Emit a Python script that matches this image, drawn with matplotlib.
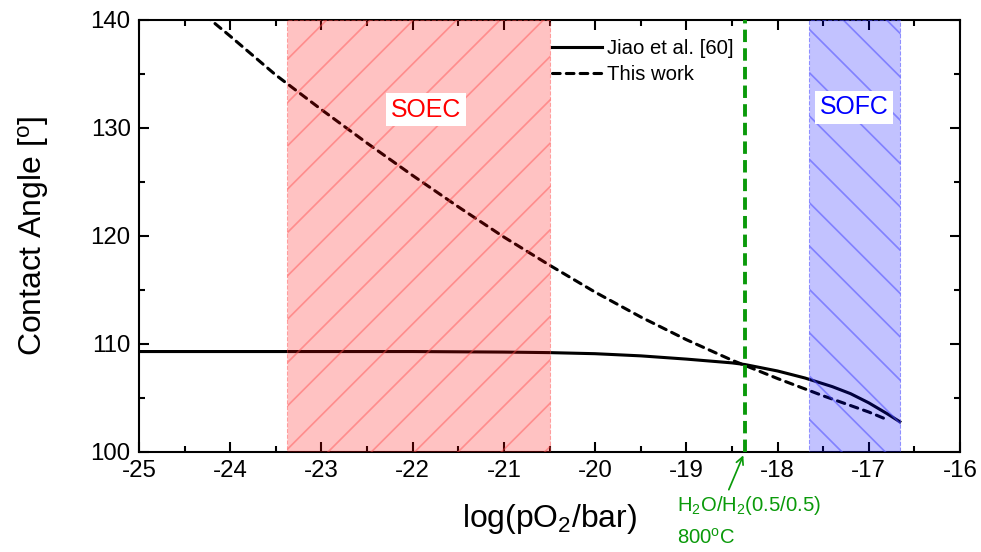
import matplotlib
matplotlib.use("Agg")
import matplotlib.pyplot as plt
from matplotlib.ticker import MultipleLocator

# dpi 130 so the default hatch spacing matches the original (~22 px);
# all sizes below are in points at that dpi
DPI = 130

plt.rcParams["font.family"] = ["Liberation Sans", "DejaVu Sans"]
plt.rcParams["mathtext.fontset"] = "custom"
plt.rcParams["mathtext.rm"] = "Liberation Sans"
plt.rcParams["mathtext.it"] = "Liberation Sans:italic"
plt.rcParams["axes.unicode_minus"] = False
plt.rcParams["hatch.linewidth"] = 0.95

GREEN = "#0a9a0a"

# Jiao et al. [60]
jiao_x = [-25.0, -24.0, -23.0, -22.0, -21.0, -20.5, -20.0, -19.5, -19.0, -18.5,
          -18.36, -18.0, -17.7, -17.4, -17.2, -17.0, -16.8, -16.66]
jiao_y = [109.3, 109.3, 109.3, 109.3, 109.25, 109.2, 109.1, 108.9, 108.6, 108.25,
          108.1, 107.5, 106.85, 106.05, 105.4, 104.55, 103.55, 102.8]

# This work
work_x = [-24.4, -24.0, -23.5, -23.0, -22.5, -22.0, -21.5, -21.0, -20.5, -20.0,
          -19.5, -19.0, -18.5, -18.0, -17.5, -17.0, -16.8]
work_y = [141.3, 138.5, 134.9, 131.7, 128.6, 125.6, 122.7, 119.9, 117.3, 114.8,
          112.5, 110.4, 108.5, 106.8, 105.2, 103.7, 103.0]

soec_range = (-23.38, -20.5)
sofc_range = (-17.66, -16.66)
h2o_h2_po2 = -18.36

fig = plt.figure(figsize=(981 / DPI, 552 / DPI), dpi=DPI)
ax = fig.add_axes([0.1417, 0.1812, 0.8369, 0.7826])

ax.plot(jiao_x, jiao_y, color="black", lw=1.7, label="Jiao et al. [60]", zorder=2)
ax.plot(work_x, work_y, color="black", lw=1.7, ls=(0, (2.5, 2)),
        dash_capstyle="round", label="This work", zorder=2)

ax.axvspan(*soec_range, facecolor=(1, 0, 0, 0.24), edgecolor=(1, 0.3, 0.3, 0.45),
           hatch="/", ls="--", lw=0.6, zorder=3)
ax.axvspan(*sofc_range, facecolor=(0, 0, 1, 0.24), edgecolor=(0.3, 0.3, 1, 0.55),
           hatch="\\", ls="--", lw=0.6, zorder=3)

ax.text(-21.85, 131.7, "SOEC", color="red", fontsize=13.8,
        ha="center", va="center", zorder=4,
        bbox=dict(facecolor="white", edgecolor="none", pad=2.6))
ax.text(sum(sofc_range) / 2, 131.9, "SOFC", color="blue", fontsize=13.8,
        ha="center", va="center", zorder=4,
        bbox=dict(facecolor="white", edgecolor="none", pad=2.6))

ax.axvline(h2o_h2_po2, color=GREEN, lw=2.15, ls=(0, (3.2, 1.6)), zorder=4)

ax.annotate("", xy=(h2o_h2_po2, 100), xytext=(-18.55, 96.2),
            arrowprops=dict(arrowstyle="->", color=GREEN, lw=0.95),
            annotation_clip=False)
ax.text(-19.1, 95.0, r"H$_2$O/H$_2$(0.5/0.5)", color=GREEN, fontsize=11.2,
        ha="left", va="center", clip_on=False)
ax.text(-19.1, 92.1, r"800$^\mathrm{o}$C", color=GREEN, fontsize=11.2,
        ha="left", va="center", clip_on=False)

ax.set_xlim(-25, -16)
ax.set_ylim(100, 140)
ax.xaxis.set_major_locator(MultipleLocator(1))
ax.xaxis.set_minor_locator(MultipleLocator(0.5))
ax.yaxis.set_major_locator(MultipleLocator(10))
ax.yaxis.set_minor_locator(MultipleLocator(5))
ax.tick_params(which="both", direction="in", top=True, right=True, width=1.15,
               labelsize=13.3)
ax.tick_params(which="major", length=5.4, pad=4.6)
ax.tick_params(which="minor", length=3.1)
for s in ax.spines.values():
    s.set_linewidth(1.15)

ax.set_xlabel(r"log(pO$_2$/bar)", fontsize=17.7, labelpad=11)
ax.set_ylabel(r"Contact Angle [$^\mathrm{o}$]", fontsize=17.7, labelpad=22)

ax.legend(loc="upper left", bbox_to_anchor=(0.503, 0.955), frameon=False,
          fontsize=11.2, handlelength=2.45, handletextpad=0.25, labelspacing=0.35,
          borderpad=0, borderaxespad=0)

fig.savefig("out.png", dpi=DPI, facecolor="white")
